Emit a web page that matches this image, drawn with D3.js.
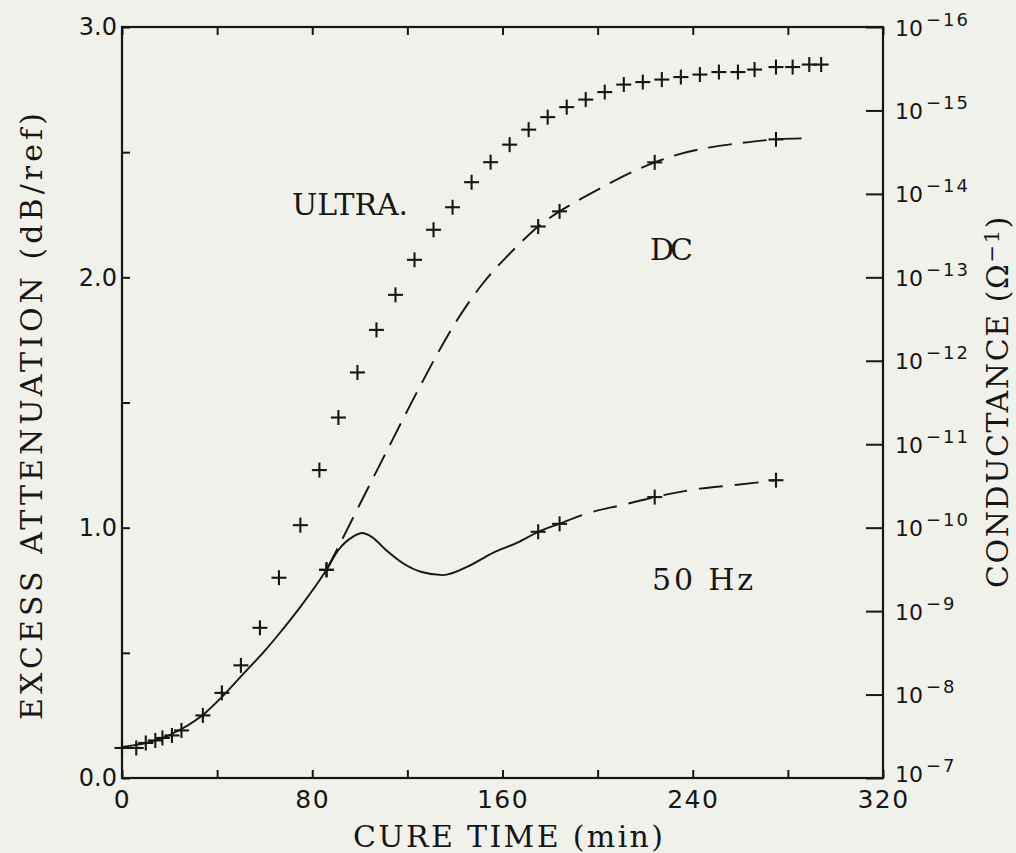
<!DOCTYPE html>
<html>
<head>
<meta charset="utf-8">
<script src="https://cdn.jsdelivr.net/npm/d3@7"></script>
<style>
  html, body { margin: 0; padding: 0; background: #f1f1eb; }
  svg { display: block; }
</style>
</head>
<body>
<svg id="chart" width="1016" height="853"></svg>
<script>
// ---- axes ----
const timeTicks = [0, 40, 80, 120, 160, 200, 240, 280, 320];
const timeLabels = [0, 80, 160, 240, 320];
const attenTicks = [0, 0.5, 1, 1.5, 2, 2.5, 3];
const attenLabels = [0, 1, 2, 3];
const condTicks = [1e-7, 1e-8, 1e-9, 1e-10, 1e-11, 1e-12, 1e-13, 1e-14, 1e-15, 1e-16];

// ---- ultrasonic excess attenuation (dB/ref) ----
const ultraTime = [0, 6, 10, 14, 17, 21, 25, 34, 42, 50, 58, 66, 75, 83, 91, 99, 107,
  115, 123, 131, 139, 147, 155, 163, 171, 179, 187, 195, 203, 211, 219, 227, 235, 243,
  251, 259, 266, 275, 282, 289, 294];
const ultraAtten = [0.12, 0.12, 0.14, 0.15, 0.16, 0.17, 0.19, 0.25, 0.34, 0.45, 0.60,
  0.80, 1.01, 1.23, 1.44, 1.62, 1.79, 1.93, 2.07, 2.19, 2.28, 2.38, 2.46, 2.53, 2.59,
  2.64, 2.68, 2.71, 2.74, 2.77, 2.78, 2.79, 2.80, 2.81, 2.82, 2.82, 2.83, 2.84, 2.84,
  2.85, 2.85];

// ---- DC conductance (ohm^-1) ----
const dcTime = [86, 91.4, 96.9, 104.1, 111.4, 118.2, 125.4, 132.6, 139.4, 145.4, 150.9,
  156, 161.5, 166.5, 175, 184, 191.1, 200.3, 214.2, 224, 234, 243.7, 260.6, 275, 286.7];
const dcCond = [3.2e-10, 1.61e-10, 7.87e-11, 3.08e-11, 1.2e-11, 4.98e-12, 2.0e-12,
  8.28e-13, 3.82e-13, 2.08e-13, 1.27e-13, 8.49e-14, 5.77e-14, 4.14e-14, 2.46e-14,
  1.62e-14, 1.23e-14, 8.83e-15, 5.52e-15, 4.19e-15, 3.36e-15, 2.89e-15, 2.45e-15,
  2.22e-15, 2.16e-15];

// ---- 50 Hz conductance (ohm^-1) ----
const hzTime = [0, 15, 25, 35, 42, 51, 60, 66, 75, 86, 91, 97, 101, 105, 111, 118, 126,
  135, 145, 156, 167, 175, 184, 196, 211, 224, 243, 257, 275];
const hzCond = [4.25e-8, 3.5e-8, 2.59e-8, 1.66e-8, 1.07e-8, 5.66e-9, 3.0e-9, 1.88e-9,
  8.9e-10, 3.2e-10, 1.85e-10, 1.29e-10, 1.16e-10, 1.29e-10, 1.85e-10, 2.65e-10, 3.4e-10,
  3.7e-10, 2.96e-10, 2.0e-10, 1.48e-10, 1.12e-10, 9.0e-11, 6.7e-11, 5.3e-11, 4.3e-11,
  3.4e-11, 3.1e-11, 2.7e-11];

// times at which conductance readings are marked with a cross
const condMarkTimes = [86, 175, 184, 224, 275];
// the 50 Hz trace is continuous up to this time, dashed afterwards
const hzSolidUntil = 184;

// ---- layout ----
const frame = { left: 122, right: 883, top: 27, bottom: 778 };
const ink = "#161616";
const serif = "'DejaVu Serif', serif";
const sans = "'DejaVu Sans', sans-serif";

const svg = d3.select("#chart");
svg.append("rect").attr("width", 1016).attr("height", 853).attr("fill", "#f1f1eb");

const x = d3.scaleLinear().domain([0, 320]).range([frame.left, frame.right]);
const y = d3.scaleLinear().domain([0, 3]).range([frame.bottom, frame.top]);
const g = d3.scaleLog().domain([1e-7, 1e-16]).range([frame.bottom, frame.top]);

// ---- frame ----
svg.append("rect")
  .attr("x", frame.left).attr("y", frame.top)
  .attr("width", frame.right - frame.left).attr("height", frame.bottom - frame.top)
  .attr("fill", "none").attr("stroke", ink).attr("stroke-width", 2.2);

function styleAxis(sel, fontSize) {
  sel.select(".domain").remove();
  sel.selectAll(".tick line").attr("stroke", ink).attr("stroke-width", 2);
  sel.selectAll(".tick text")
    .attr("fill", ink)
    .style("font-family", sans)
    .style("font-size", fontSize + "px");
}

// bottom axis
svg.append("g")
  .attr("transform", `translate(0,${frame.bottom})`)
  .call(d3.axisBottom(x).tickValues(timeTicks).tickSize(-8).tickPadding(12)
    .tickFormat(d => timeLabels.includes(d) ? d : ""))
  .call(s => styleAxis(s, 25))
  .call(s => s.selectAll(".tick text").attr("letter-spacing", 1.5));

// top axis (ticks only)
svg.append("g")
  .attr("transform", `translate(0,${frame.top})`)
  .call(d3.axisTop(x).tickValues(timeTicks).tickSize(-8).tickFormat(""))
  .call(s => styleAxis(s, 25));

// left axis
svg.append("g")
  .attr("transform", `translate(${frame.left},0)`)
  .call(d3.axisLeft(y).tickValues(attenTicks).tickSize(-8).tickPadding(5)
    .tickFormat(d => attenLabels.includes(d) ? d3.format(".1f")(d) : ""))
  .call(s => styleAxis(s, 24));

// right axis (log conductance)
const right = svg.append("g")
  .attr("transform", `translate(${frame.right},0)`)
  .call(d3.axisRight(g).tickValues(condTicks).tickSize(-17).tickFormat(""))
  .call(s => styleAxis(s, 22));

right.selectAll(".tick").each(function (d) {
  const exp = Math.round(Math.log10(d));
  // keep the lowest label clear of the time-axis labels
  const base = Math.min(8, frame.bottom + 3 - g(d));
  const t = d3.select(this).append("text")
    .attr("x", 12).attr("y", base)
    .attr("fill", ink)
    .style("font-family", sans)
    .style("font-size", "22px");
  t.append("tspan").text("10");
  t.append("tspan").attr("dy", -10).attr("dx", 3)
    .style("font-size", "18px")
    .attr("letter-spacing", 2)
    .text("\u2212" + Math.abs(exp));
});

// ---- series ----
const ultra = ultraTime.map((t, i) => ({ t, v: ultraAtten[i] }));
const dc = dcTime.map((t, i) => ({ t, v: dcCond[i] }));
const hz = hzTime.map((t, i) => ({ t, v: hzCond[i] }));

const condLine = d3.line().x(d => x(d.t)).y(d => g(d.v)).curve(d3.curveMonotoneX);

svg.append("path")
  .datum(hz.filter(d => d.t <= hzSolidUntil))
  .attr("d", condLine)
  .attr("fill", "none").attr("stroke", ink).attr("stroke-width", 1.9);

svg.append("path")
  .datum(hz.filter(d => d.t >= hzSolidUntil))
  .attr("d", condLine)
  .attr("fill", "none").attr("stroke", ink).attr("stroke-width", 1.9)
  .attr("stroke-dasharray", "24,12");

svg.append("path")
  .datum(dc)
  .attr("d", condLine)
  .attr("fill", "none").attr("stroke", ink).attr("stroke-width", 1.9)
  .attr("stroke-dasharray", "24,11");

// crosses
const crossSize = 7.5;
function cross(sel) {
  sel.append("line").attr("x1", -crossSize).attr("x2", crossSize).attr("y1", 0).attr("y2", 0);
  sel.append("line").attr("x1", 0).attr("x2", 0).attr("y1", -crossSize).attr("y2", crossSize);
}

const marks = svg.append("g").attr("stroke", ink).attr("stroke-width", 2.1);

marks.selectAll("g.ultra").data(ultra).join("g")
  .attr("class", "ultra")
  .attr("transform", d => `translate(${x(d.t)},${y(d.v)})`)
  .each(function () { cross(d3.select(this)); });

const condMarks = dc.filter(d => condMarkTimes.includes(d.t))
  .concat(hz.filter(d => condMarkTimes.includes(d.t)));
marks.selectAll("g.cond").data(condMarks).join("g")
  .attr("class", "cond")
  .attr("transform", d => `translate(${x(d.t)},${g(d.v)})`)
  .each(function () { cross(d3.select(this)); });

// ---- text ----
function fitWidth(sel, target) {
  const node = sel.node();
  const w = node.getComputedTextLength();
  const n = node.textContent.length;
  sel.attr("letter-spacing", (target - w) / Math.max(1, n - 1));
}

function label(str, tx, ty, width, rotate) {
  const t = svg.append("text")
    .attr("transform", `translate(${tx},${ty})` + (rotate ? " rotate(-90)" : ""))
    .attr("fill", ink)
    .style("font-family", serif)
    .style("font-size", "30px")
    .text(str);
  fitWidth(t, width);
  return t;
}

label("ULTRA.", 292, 215, 116);
label("DC", 650, 260, 43);
label("50 Hz", 652, 590, 101);
label("CURE TIME (min)", 353, 847, 310);
label("EXCESS ATTENUATION (dB/ref)", 42, 720, 607, true);

// right-hand title with superscript
const rt = svg.append("text")
  .attr("transform", "translate(1008,588) rotate(-90)")
  .attr("fill", ink)
  .style("font-family", serif)
  .style("font-size", "30px");
rt.append("tspan").text("CONDUCTANCE  (\u03A9");
rt.append("tspan").attr("dy", -9).style("font-size", "21px").text("\u22121");
rt.append("tspan").attr("dy", 9).text(")");
fitWidth(rt, 373);
</script>
</body>
</html>
